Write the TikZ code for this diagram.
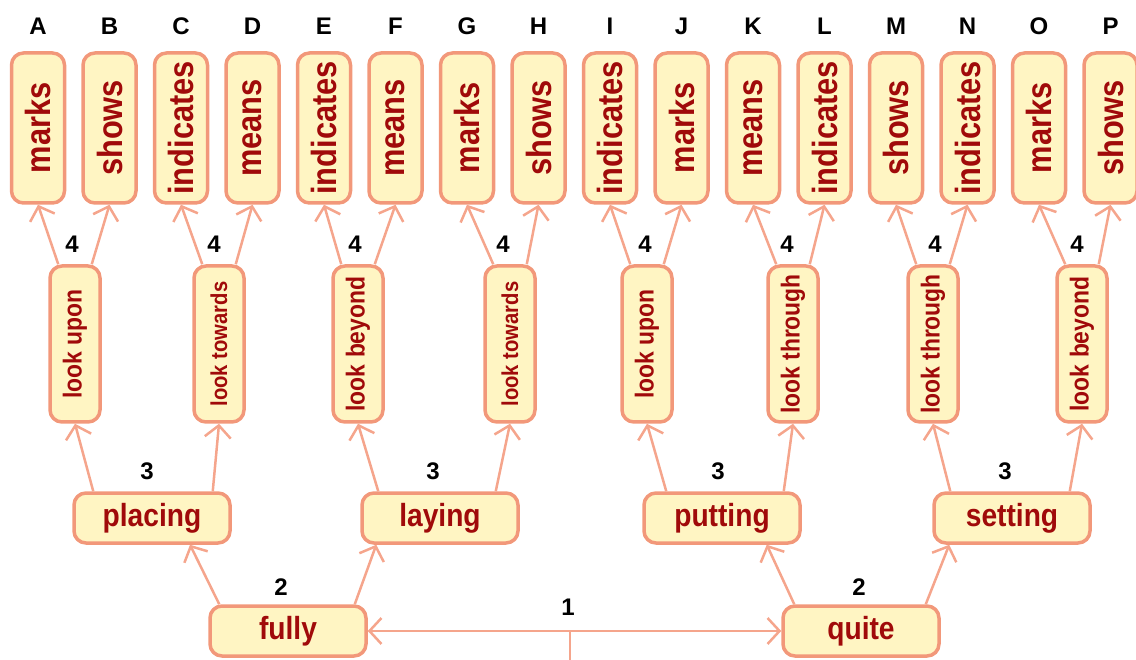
\documentclass[tikz,border=0pt]{standalone}
\usepackage{fontspec}
\setmainfont{Liberation Sans}
\newfontfamily\condfont{Liberation Sans}[FakeStretch=0.88]
\usetikzlibrary{arrows.meta}

\definecolor{boxfill}{RGB}{255,245,195}
\definecolor{boxline}{RGB}{242,152,122}
\definecolor{edgeline}{RGB}{245,165,140}
\definecolor{wordred}{RGB}{160,10,10}

\tikzset{
  word/.style={draw=boxline, line width=3.5pt, fill=boxfill, rounded corners=12pt,
    text=wordred, inner sep=0pt, minimum width=156pt, minimum height=50pt,
    font=\condfont\bfseries\fontsize{32}{36}\selectfont},
  leaf/.style={word, rotate=90, minimum width=150pt, minimum height=53pt,
    font=\condfont\bfseries\fontsize{35}{40}\selectfont},
  look/.style={word, rotate=90, minimum width=156pt, minimum height=50pt,
    font=\condfont\bfseries\fontsize{26}{30}\selectfont},
  smallword/.style={font=\condfont\bfseries\fontsize{23}{26}\selectfont},
  num/.style={inner sep=0pt, font=\bfseries\fontsize{24}{28}\selectfont},
  stem/.style={draw=edgeline, line width=2.5pt},
  link/.style={stem, -{Straight Barb[length=12pt,width=26pt]}},
}

\begin{document}
\begin{tikzpicture}[x=1pt,y=-1pt]
    \useasboundingbox (0,0) rectangle (1136,660);

    % leaves
    \node[leaf] (A) at (38,128) {marks};
    \node[leaf] (B) at (109.5,128) {shows};
    \node[leaf] (C) at (181,128) {indicates};
    \node[leaf] (D) at (252.5,128) {means};
    \node[leaf] (E) at (324,128) {indicates};
    \node[leaf] (F) at (395.5,128) {means};
    \node[leaf] (G) at (467,128) {marks};
    \node[leaf] (H) at (538.5,128) {shows};
    \node[leaf] (I) at (610,128) {indicates};
    \node[leaf] (J) at (681.5,128) {marks};
    \node[leaf] (K) at (753,128) {means};
    \node[leaf] (L) at (824.5,128) {indicates};
    \node[leaf] (M) at (896,128) {shows};
    \node[leaf] (N) at (967.5,128) {indicates};
    \node[leaf] (O) at (1039,128) {marks};
    \node[leaf] (P) at (1110.5,128) {shows};

    % column letters
    \node[num] (tA) at (38,26) {A};
    \node[num] (tB) at (109.5,26) {B};
    \node[num] (tC) at (181,26) {C};
    \node[num] (tD) at (252.5,26) {D};
    \node[num] (tE) at (324,26) {E};
    \node[num] (tF) at (395.5,26) {F};
    \node[num] (tG) at (467,26) {G};
    \node[num] (tH) at (538.5,26) {H};
    \node[num] (tI) at (610,26) {I};
    \node[num] (tJ) at (681.5,26) {J};
    \node[num] (tK) at (753,26) {K};
    \node[num] (tL) at (824.5,26) {L};
    \node[num] (tM) at (896,26) {M};
    \node[num] (tN) at (967.5,26) {N};
    \node[num] (tO) at (1039,26) {O};
    \node[num] (tP) at (1110.5,26) {P};

    % level 4
    \node[look] (upon1) at (75,344) {look upon};
    \node[look, smallword] (towards1) at (219,344) {look towards};
    \node[look] (beyond1) at (358,344) {look beyond};
    \node[look, smallword] (towards2) at (510,344) {look towards};
    \node[look] (upon2) at (647,344) {look upon};
    \node[look] (through1) at (793,344) {look through};
    \node[look] (through2) at (933,344) {look through};
    \node[look] (beyond2) at (1082,344) {look beyond};

    \node[num] (n4a) at ([xshift=-3pt,yshift=20pt]upon1.east) {4};
    \node[num] (n4b) at ([xshift=-5pt,yshift=20pt]towards1.east) {4};
    \node[num] (n4c) at ([xshift=-3pt,yshift=20pt]beyond1.east) {4};
    \node[num] (n4d) at ([xshift=-7pt,yshift=20pt]towards2.east) {4};
    \node[num] (n4e) at ([xshift=-2pt,yshift=20pt]upon2.east) {4};
    \node[num] (n4f) at ([xshift=-6pt,yshift=20pt]through1.east) {4};
    \node[num] (n4g) at ([xshift=2pt,yshift=20pt]through2.east) {4};
    \node[num] (n4h) at ([xshift=-5pt,yshift=20pt]beyond2.east) {4};

    \draw[link] ([xshift=10pt]upon1.north east) -- (A.west);
    \draw[link] ([xshift=-10pt]upon1.south east) -- (B.west);
    \draw[link] ([xshift=10pt]towards1.north east) -- (C.west);
    \draw[link] ([xshift=-10pt]towards1.south east) -- (D.west);
    \draw[link] ([xshift=10pt]beyond1.north east) -- (E.west);
    \draw[link] ([xshift=-10pt]beyond1.south east) -- (F.west);
    \draw[link] ([xshift=10pt]towards2.north east) -- (G.west);
    \draw[link] ([xshift=-10pt]towards2.south east) -- (H.west);
    \draw[link] ([xshift=10pt]upon2.north east) -- (I.west);
    \draw[link] ([xshift=-10pt]upon2.south east) -- (J.west);
    \draw[link] ([xshift=10pt]through1.north east) -- (K.west);
    \draw[link] ([xshift=-10pt]through1.south east) -- (L.west);
    \draw[link] ([xshift=10pt]through2.north east) -- (M.west);
    \draw[link] ([xshift=-10pt]through2.south east) -- (N.west);
    \draw[link] ([xshift=10pt]beyond2.north east) -- (O.west);
    \draw[link] ([xshift=-10pt]beyond2.south east) -- (P.west);

    % level 3
    \node[word] (placing) at (152,518) {placing};
    \node[word] (laying) at (440,518) {laying};
    \node[word] (putting) at (722,518) {putting};
    \node[word] (setting) at (1012,518) {setting};

    \node[num] (n3a) at ([xshift=-5pt,yshift=20pt]placing.north) {3};
    \node[num] (n3b) at ([xshift=-7pt,yshift=20pt]laying.north) {3};
    \node[num] (n3c) at ([xshift=-4pt,yshift=20pt]putting.north) {3};
    \node[num] (n3d) at ([xshift=-7pt,yshift=20pt]setting.north) {3};

    \draw[link] ([xshift=21pt]placing.north west) -- (upon1.west);
    \draw[link] ([xshift=-19pt]placing.north east) -- (towards1.west);
    \draw[link] ([xshift=18pt]laying.north west) -- (beyond1.west);
    \draw[link] ([xshift=-24pt]laying.north east) -- (towards2.west);
    \draw[link] ([xshift=24pt]putting.north west) -- (upon2.west);
    \draw[link] ([xshift=-18pt]putting.north east) -- (through1.west);
    \draw[link] ([xshift=18pt]setting.north west) -- (through2.west);
    \draw[link] ([xshift=-22pt]setting.north east) -- (beyond2.west);

    % level 2
    \node[word] (fully) at (288,631) {fully};
    \node[word] (quite) at (861,631) {quite};

    \node[num] (n2a) at ([xshift=-7pt,yshift=17pt]fully.north) {2};
    \node[num] (n2b) at ([xshift=-2pt,yshift=17pt]quite.north) {2};

    \draw[link] ([xshift=11pt]fully.north west) -- ([xshift=38pt]placing.south);
    \draw[link] ([xshift=-13pt]fully.north east) -- ([xshift=16pt]laying.south west);
    \draw[link] ([xshift=13pt]quite.north west) -- ([xshift=-35pt]putting.south east);
    \draw[link] ([xshift=-15pt]quite.north east) -- ([xshift=17pt]setting.south west);

    % level 1
    \coordinate (root) at (570,660);
    \coordinate (fork) at (570,631);
    \node[num] (n1) at ([xshift=-2pt,yshift=24pt]fork) {1};
    \draw[stem] (root) -- (fork);
    \draw[link] (fork) -- (fully.east);
    \draw[link] (fork) -- (quite.west);

\end{tikzpicture}
\end{document}
